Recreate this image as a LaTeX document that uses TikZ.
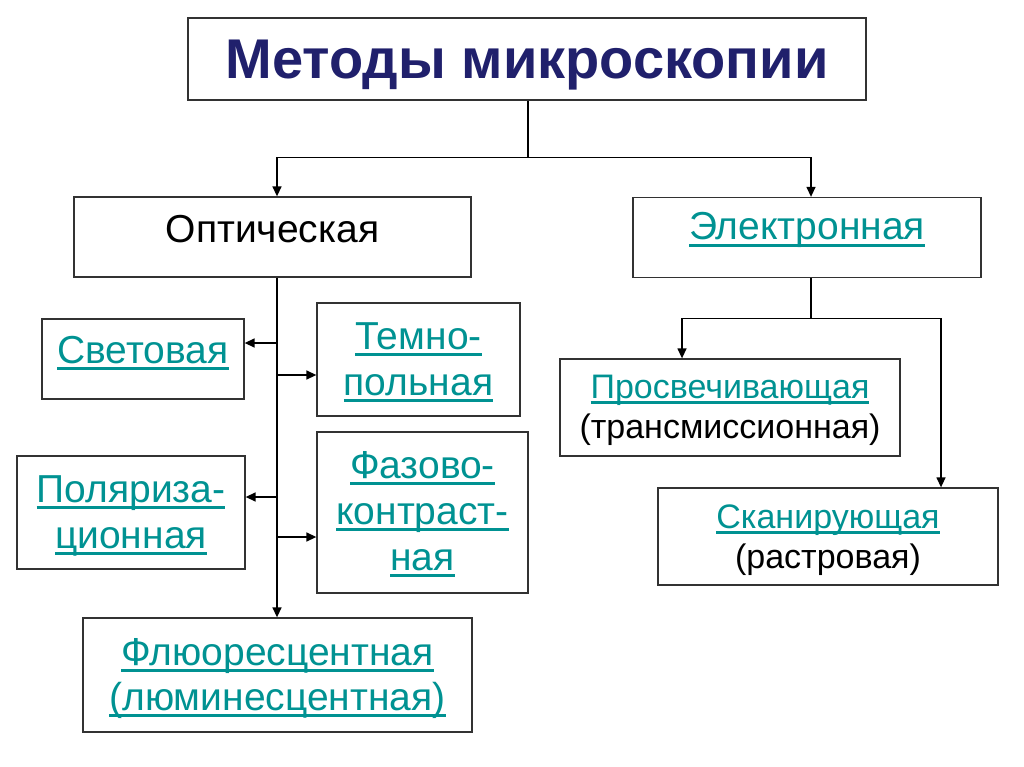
\documentclass[tikz,border=0pt]{standalone}
\usepackage{fontspec}
\setmainfont{Liberation Sans}
\usepackage{tikz}
\usetikzlibrary{arrows.meta}

\definecolor{linkteal}{RGB}{0,146,146}
\definecolor{titlenavy}{RGB}{32,32,108}
\definecolor{boxgray}{RGB}{50,50,50}

% underlined hyperlink-like text
\newsavebox\ulinebox
\newcommand\ulink[1]{\sbox\ulinebox{#1}\rlap{\vrule height -0.1em depth 0.17em width \wd\ulinebox}\usebox\ulinebox}

\tikzset{
  box/.style={draw=boxgray, line width=1.3pt, inner sep=2pt, align=center,
    font=\fontsize{39}{46}\selectfont, text height=28pt},
  smallbox/.style={box, font=\fontsize{34}{40}\selectfont, text height=24pt},
  arr/.style={line width=1.4pt, -{Triangle[length=10pt,width=9pt]}},
  conn/.style={line width=1.4pt}
}

\begin{document}
\begin{tikzpicture}[x=1pt,y=-1pt]
    \useasboundingbox (0,0) rectangle (1024,767);

    % draw boxes
    \node[box, minimum width=678pt, minimum height=82pt, text height=40pt, text depth=0pt,
      font=\fontsize{56}{60}\selectfont\bfseries, text=titlenavy] (title) at (527,59) {Методы микроскопии};
    \node[box, minimum width=397pt, minimum height=80pt, text depth=18pt] (optic) at (272.5,237) {Оптическая};
    \node[box, minimum width=348pt, minimum height=80pt, text depth=23pt, text=linkteal] (electr) at (807,237.5) {\ulink{Электронная}};

    \node[box, minimum width=202pt, minimum height=80pt, text depth=20pt, text=linkteal] (svet) at (143,359) {\ulink{Световая}};
    \node[box, minimum width=203pt, minimum height=113pt, text height=74pt, text depth=3pt, text=linkteal] (temno) at (418.5,359.5) {\ulink{Темно-}\\\ulink{польная}};
    \node[box, minimum width=228pt, minimum height=113pt, text height=74pt, text depth=3pt, text=linkteal] (polar) at (131,512.5) {\ulink{Поляриза-}\\\ulink{ционная}};
    \node[box, minimum width=211pt, minimum height=161pt, text height=120pt, text depth=5pt, text=linkteal] (faza) at (422.5,512.5) {\ulink{Фазово-}\\\ulink{контраст-}\\\ulink{ная}};
    \node[box, minimum width=389pt, minimum height=114pt, text height=73pt, text depth=3pt, text=linkteal,
      font=\fontsize{39}{45}\selectfont] (fluor) at (277.5,675) {\ulink{Флюоресцентная}\\\ulink{(люминесцентная)}};

    \node[smallbox, minimum width=340pt, minimum height=97pt, text height=64pt, text depth=3pt] (prosv) at (730,407.5) {\textcolor{linkteal}{\ulink{Просвечивающая}}\\(трансмиссионная)};
    \node[smallbox, minimum width=340pt, minimum height=97pt, text height=64pt, text depth=1pt] (skan) at (828,536.5) {\textcolor{linkteal}{\ulink{Сканирующая}}\\(растровая)};

    % top fork
    \draw[conn] ([xshift=1pt]title.south) -- ++(0,57) coordinate (tfork);
    \draw[arr] (tfork) -| ([xshift=4.5pt]optic.north);
    \draw[arr] (tfork) -| ([xshift=4pt]electr.north);

    % optical trunk and branches
    \coordinate (trunk) at ([xshift=4.5pt]optic.south);
    \draw[arr] (trunk) -- (trunk |- fluor.north);
    \coordinate (svetin) at ([yshift=16pt]svet.east);
    \coordinate (temnoin) at ([yshift=-15.5pt]temno.west);
    \coordinate (polarin) at ([yshift=15.5pt]polar.east);
    \coordinate (fazain) at ([yshift=-24.5pt]faza.west);
    \draw[arr] (trunk |- svetin) -- (svetin);
    \draw[arr] (trunk |- temnoin) -- (temnoin);
    \draw[arr] (trunk |- polarin) -- (polarin);
    \draw[arr] (trunk |- fazain) -- (fazain);

    % electron fork
    \draw[conn] ([xshift=4pt]electr.south) -- ++(0,40.5) coordinate (rfork);
    \draw[arr] (rfork) -| ([xshift=-48pt]prosv.north);
    \draw[arr] (rfork) -| ([xshift=113pt]skan.north);
  \end{tikzpicture}
\end{document}
